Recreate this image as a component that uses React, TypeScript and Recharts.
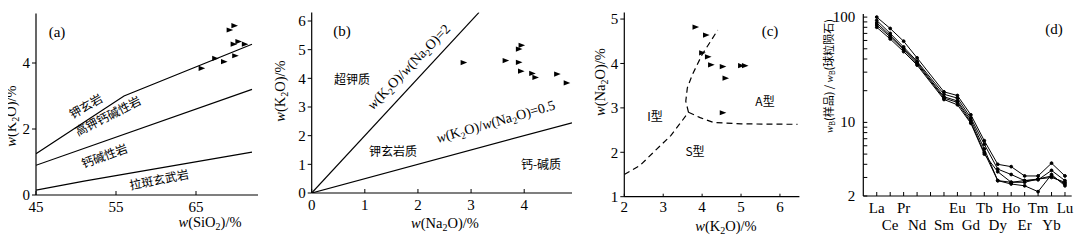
import React from "react";
import { ScatterChart, Scatter, XAxis, YAxis, LineChart, Line } from "recharts";

const serif = "'Liberation Serif', 'DejaVu Serif', 'Noto Sans CJK SC', serif";
const cjk = "'Noto Sans CJK SC', 'Liberation Serif', serif";

// (a) SiO2 - K2O
const aSiO2 = [69.2, 69.8, 69.7, 70.3, 71.1, 67.4, 68.5, 69.9, 65.7];
const aK2O = [5.0, 5.13, 4.57, 4.65, 4.57, 4.14, 4.04, 4.22, 3.84];
const aShoX = [45, 56, 72];
const aShoY = [1.25, 3.0, 4.57];
const aHkX = [45, 72];
const aHkY = [0.9, 3.2];
const aThX = [45, 51, 72];
const aThY = [0.15, 0.42, 1.3];

// (b) Na2O - K2O
const bNa2O = [2.86, 3.65, 3.9, 3.9, 3.95, 3.94, 4.15, 4.21, 4.62, 4.8];
const bK2O = [4.55, 4.62, 4.56, 5.02, 5.15, 4.25, 4.17, 4.03, 4.15, 3.84];
const bR2X = [0, 3.15];
const bR2Y = [0, 6.3];
const bR05X = [0, 4.9];
const bR05Y = [0, 2.45];

// (c) K2O - Na2O
const cK2O = [3.83, 4.1, 4.0, 4.15, 4.23, 4.53, 5.0, 5.1, 4.6, 4.53];
const cNa2O = [4.82, 4.64, 4.24, 4.15, 3.97, 3.93, 3.95, 3.95, 3.67, 2.89];
const cIsX = [2, 2.4, 2.75, 3.2, 3.65];
const cIsY = [1.5, 1.7, 2.0, 2.38, 2.9];
const cIaX = [3.65, 3.58, 3.62, 3.75, 4.0, 4.4];
const cIaY = [2.9, 3.15, 3.45, 3.75, 4.2, 4.75];
const cSaX = [3.65, 3.95, 4.3, 5.0, 6.45];
const cSaY = [2.9, 2.78, 2.67, 2.64, 2.63];

// (d) REE / chondrite
const reeNames = ["La", "Ce", "Pr", "Nd", "", "Sm", "Eu", "Gd", "Tb", "Dy", "Ho", "Er", "Tm", "Yb", "Lu"];
const ree1 = [100, 78, 59, 41, null, 19.5, 18, 11.8, 6.7, 4.0, 3.8, 3.1, 3.1, 4.1, 3.1];
const ree2 = [93, 70, 52, 38, null, 18.5, 17, 11, 6.2, 3.6, 3.2, 2.8, 2.85, 3.5, 2.8];
const ree3 = [88, 67, 50, 37, null, 17.5, 16, 10.5, 5.6, 2.8, 2.7, 2.8, 2.9, 3.1, 2.6];
const ree4 = [84, 65, 49, 36, null, 17, 15.5, 10, 5.2, 2.8, 2.6, 2.5, 2.2, 3.2, 2.5];
const ree5 = [80, 62, 47, 35, null, 16.5, 14.7, 9.8, 5.0, 3.4, 2.7, 2.7, 2.9, 3.0, 2.7];
const reeTicksY = [2, 3, 4, 5, 6, 7, 8, 9, 10, 20, 30, 40, 50, 60, 70, 80, 90, 100];

const pts = (xs: number[], ys: number[]) => xs.map((x, i) => ({ x, y: ys[i] }));
const reeData = reeNames.map((n, i) => ({
  x: i + 1,
  s1: ree1[i],
  s2: ree2[i],
  s3: ree3[i],
  s4: ree4[i],
  s5: ree5[i],
}));

const Tri = (p: any) => {
  const { cx, cy } = p;
  if (cx == null || cy == null) return <g />;
  return <path d={`M${cx - 3},${cy - 2.6}L${cx + 3.6},${cy}L${cx - 3},${cy + 2.6}Z`} fill="#000" />;
};
const NoDot = () => <g />;

const tickStyle = { fill: "#000", fontSize: 15, fontFamily: serif };
const axisLine = { stroke: "#000", strokeWidth: 1.2 };
const xTickIn = { stroke: "#000", transform: "translate(0,-4)" };
const yTickOut = { stroke: "#000" };
const solid = { stroke: "#000", strokeWidth: 1.2 };
const dashed = { stroke: "#000", strokeWidth: 1.2, strokeDasharray: "6 4" };

const ReeTick = (props: any) => {
  const { x, y, payload } = props;
  const i = payload.value;
  const name = reeNames[i - 1] || "";
  const top = i % 2 === 1;
  return (
    <text x={x} y={y + (top ? 11 : 28)} textAnchor="middle" fontSize={15} fontFamily={serif} fill="#000">
      {name}
    </text>
  );
};

const ReeYTick = (props: any) => {
  const { x, y, payload } = props;
  const v = payload.value;
  if (v !== 2 && v !== 10 && v !== 100) return <g />;
  return (
    <text x={x - 2} y={y + 5} textAnchor="end" fontSize={15} fontFamily={serif} fill="#000">
      {v}
    </text>
  );
};

// w(X) style axis titles
const Oxide = ({ x, y, base, sub, tail, rotate }: any) => (
  <text
    x={x}
    y={y}
    textAnchor="middle"
    fontSize={14.5}
    fontFamily={serif}
    fill="#000"
    transform={rotate ? `rotate(-90 ${x} ${y})` : undefined}
  >
    <tspan fontStyle="italic">w</tspan>
    <tspan>({base}</tspan>
    <tspan fontSize={10} dy={3}>{sub}</tspan>
    <tspan dy={-3}>{tail})/%</tspan>
  </text>
);

const Ratio = ({ x, y, angle, value }: any) => (
  <text x={x} y={y} textAnchor="middle" fontSize={14} fontFamily={serif} fill="#000" transform={`rotate(${angle} ${x} ${y})`}>
    <tspan fontStyle="italic">w</tspan>
    <tspan>(K</tspan>
    <tspan fontSize={9.5} dy={3}>2</tspan>
    <tspan dy={-3}>O)/</tspan>
    <tspan fontStyle="italic">w</tspan>
    <tspan>(Na</tspan>
    <tspan fontSize={9.5} dy={3}>2</tspan>
    <tspan dy={-3}>O)={value}</tspan>
  </text>
);

const Cn = ({ x, y, angle = 0, size = 12, children }: any) => (
  <text x={x} y={y} textAnchor="middle" fontSize={size} fontFamily={cjk} fill="#000" transform={`rotate(${angle} ${x} ${y})`}>
    {children}
  </text>
);

export default function App() {
  return (
    <div style={{ position: "relative", width: 1087, height: 245, margin: -8, background: "#fff", overflow: "hidden" }}>
      <div style={{ position: "absolute", left: 0, top: 0 }}>
        <ScatterChart width={270} height={245} margin={{ top: 13.5, right: 12, bottom: 20, left: 6 }}>
          <XAxis type="number" dataKey="x" domain={[45, 72.75]} ticks={[45, 55, 65]} tick={tickStyle} tickSize={4} tickLine={xTickIn} axisLine={axisLine} height={30} allowDataOverflow />
          <YAxis type="number" dataKey="y" domain={[0, 5.5]} ticks={[0, 2, 4]} tick={tickStyle} tickSize={4} tickLine={yTickOut} axisLine={axisLine} width={30} allowDataOverflow />
          <Scatter data={pts(aShoX, aShoY)} line={solid} shape={NoDot} isAnimationActive={false} />
          <Scatter data={pts(aHkX, aHkY)} line={solid} shape={NoDot} isAnimationActive={false} />
          <Scatter data={pts(aThX, aThY)} line={solid} shape={NoDot} isAnimationActive={false} />
          <Scatter data={pts(aSiO2, aK2O)} shape={Tri} isAnimationActive={false} />
        </ScatterChart>
      </div>

      <div style={{ position: "absolute", left: 272, top: 0 }}>
        <ScatterChart width={305} height={245} margin={{ top: 12.4, right: 5, bottom: 22, left: 9.7 }}>
          <XAxis type="number" dataKey="x" domain={[0, 4.9]} ticks={[0, 1, 2, 3, 4]} tick={tickStyle} tickSize={4} tickLine={xTickIn} axisLine={axisLine} height={30} allowDataOverflow />
          <YAxis type="number" dataKey="y" domain={[0, 6.3]} ticks={[0, 1, 2, 3, 4, 5, 6]} tick={tickStyle} tickSize={4} tickLine={yTickOut} axisLine={axisLine} width={30} allowDataOverflow />
          <Scatter data={pts(bR2X, bR2Y)} line={solid} shape={NoDot} isAnimationActive={false} />
          <Scatter data={pts(bR05X, bR05Y)} line={solid} shape={NoDot} isAnimationActive={false} />
          <Scatter data={pts(bNa2O, bK2O)} shape={Tri} isAnimationActive={false} />
        </ScatterChart>
      </div>

      <div style={{ position: "absolute", left: 580, top: 0 }}>
        <ScatterChart width={230} height={245} margin={{ top: 12.4, right: 10.6, bottom: 18.3, left: 14.3 }}>
          <XAxis type="number" dataKey="x" domain={[2, 6.5]} ticks={[2, 3, 4, 5, 6]} tick={tickStyle} tickSize={3} tickLine={{ stroke: "#000", transform: "translate(0,-3)" }} axisLine={axisLine} height={30} allowDataOverflow />
          <YAxis type="number" dataKey="y" domain={[1, 5.15]} ticks={[1, 2, 3, 4, 5]} tick={tickStyle} tickSize={4} tickLine={yTickOut} axisLine={axisLine} width={30} allowDataOverflow />
          <Scatter data={pts(cIsX, cIsY)} line={dashed} shape={NoDot} isAnimationActive={false} />
          <Scatter data={pts(cIaX, cIaY)} line={dashed} shape={NoDot} isAnimationActive={false} />
          <Scatter data={pts(cSaX, cSaY)} line={dashed} shape={NoDot} isAnimationActive={false} />
          <Scatter data={pts(cK2O, cNa2O)} shape={Tri} isAnimationActive={false} />
        </ScatterChart>
      </div>

      <div style={{ position: "absolute", left: 820, top: 0 }}>
        <LineChart width={260} height={245} data={reeData} margin={{ top: 14, right: 8.3, bottom: 19, left: 13.3 }}>
          <XAxis type="number" dataKey="x" domain={[0, 15.5]} ticks={[1, 2, 3, 4, 5, 6, 7, 8, 9, 10, 11, 12, 13, 14, 15]} tick={<ReeTick />} tickSize={4} tickLine={xTickIn} axisLine={axisLine} height={30} interval={0} allowDataOverflow />
          <XAxis xAxisId="top" orientation="top" type="number" dataKey="x" domain={[0, 15.5]} tick={false} tickLine={false} axisLine={axisLine} height={0} />
          <YAxis scale="log" type="number" domain={[2, 107]} ticks={reeTicksY} tick={<ReeYTick />} tickSize={4} tickLine={{ stroke: "#000", transform: "translate(4,0)" }} axisLine={axisLine} width={30} interval={0} allowDataOverflow />
          <YAxis yAxisId="r" orientation="right" type="number" domain={[0, 1]} tick={false} tickLine={false} axisLine={axisLine} width={0} />
          {["s1", "s2", "s3", "s4", "s5"].map((k) => (
            <Line key={k} dataKey={k} type="linear" stroke="#000" strokeWidth={1} connectNulls dot={{ r: 1.4, fill: "#000", stroke: "#000" }} isAnimationActive={false} />
          ))}
        </LineChart>
      </div>

      <svg width={1087} height={245} style={{ position: "absolute", left: 0, top: 0, pointerEvents: "none" }}>
        {/* (a) */}
        <text x={57} y={37} textAnchor="middle" fontSize={15} fontFamily={serif}>(a)</text>
        <Cn x={88} y={110} angle={-30}>钾玄岩</Cn>
        <Cn x={110} y={120} angle={-27}>高钾钙碱性岩</Cn>
        <Cn x={106} y={160} angle={-20}>钙碱性岩</Cn>
        <Cn x={160} y={184} angle={-11}>拉斑玄武岩</Cn>
        <Oxide x={16} y={116} base="K" sub="2" tail="O" rotate />
        <Oxide x={210} y={227} base="SiO" sub="2" tail="" />

        {/* (b) */}
        <text x={342} y={36} textAnchor="middle" fontSize={15} fontFamily={serif}>(b)</text>
        <Cn x={352} y={84}>超钾质</Cn>
        <Cn x={393} y={156}>钾玄岩质</Cn>
        <Cn x={541} y={169}>钙-碱质</Cn>
        <Ratio x={412} y={70} angle={-46} value="2" />
        <Ratio x={497} y={126} angle={-16} value="0.5" />
        <Oxide x={285} y={91} base="K" sub="2" tail="O" rotate />
        <Oxide x={445} y={228} base="Na" sub="2" tail="O" />

        {/* (c) */}
        <text x={770} y={36} textAnchor="middle" fontSize={15} fontFamily={serif}>(c)</text>
        <Cn x={655} y={121}>I型</Cn>
        <Cn x={695} y={156}>S型</Cn>
        <Cn x={765} y={106}>A型</Cn>
        <Oxide x={605} y={82} base="Na" sub="2" tail="O" rotate />
        <Oxide x={726} y={231} base="K" sub="2" tail="O" />

        {/* (d) */}
        <text x={1054} y={34} textAnchor="middle" fontSize={15} fontFamily={serif}>(d)</text>
        <text x={833} y={76} textAnchor="middle" fontSize={11} fontFamily={cjk} transform="rotate(-90 833 76)">
          <tspan fontStyle="italic" fontFamily={serif}>w</tspan>
          <tspan fontSize={7} dy={2}>B</tspan>
          <tspan dy={-2}>(样品) / </tspan>
          <tspan fontStyle="italic" fontFamily={serif}>w</tspan>
          <tspan fontSize={7} dy={2}>B</tspan>
          <tspan dy={-2}>(球粒陨石)</tspan>
        </text>
      </svg>
    </div>
  );
}
